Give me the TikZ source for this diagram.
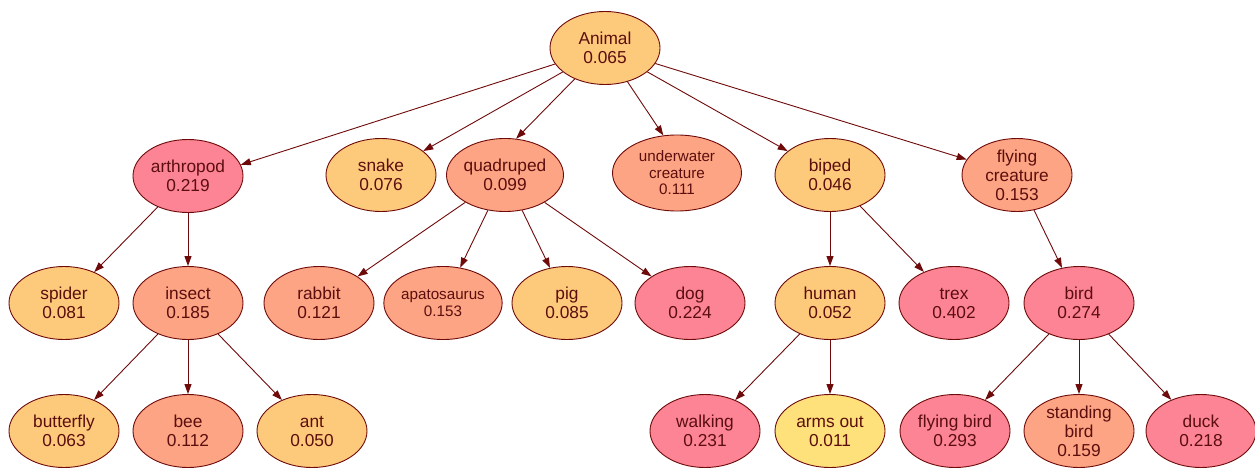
\documentclass[tikz,border=0pt]{standalone}
\usepackage{fontspec}
\setmainfont{Liberation Sans}
\usetikzlibrary{arrows.meta,shapes.geometric}
\definecolor{cOr}{HTML}{FDC97B}
\definecolor{cSa}{HTML}{FCA483}
\definecolor{cPk}{HTML}{FC8494}
\definecolor{cYe}{HTML}{FEE17A}
\definecolor{cLine}{HTML}{6E0A0A}
\definecolor{cText}{HTML}{5C0E0E}
\tikzset{
  nd/.style={ellipse, draw=cLine, line width=0.9pt, inner sep=0pt,
    minimum width=110pt, minimum height=73pt, align=center, text=cText,
    font=\fontsize{17.3}{19}\selectfont},
  ndsmall/.style={nd, font=\fontsize{15.2}{16.5}\selectfont},
  ndwide/.style={ndsmall, minimum width=129pt, minimum height=76pt},
  orn/.style={fill=cOr}, sal/.style={fill=cSa}, pnk/.style={fill=cPk}, yel/.style={fill=cYe},
  edge/.style={draw=cLine, line width=0.9pt, -{Triangle[length=10pt,width=7pt]}}
}
\begin{document}
\begin{tikzpicture}[x=1pt,y=-1pt]
\useasboundingbox (0,0) rectangle (1255,468);
\node[nd,orn] (animal) at (605,48) {Animal\\0.065};
\node[nd,pnk] (arthropod) at (188,176) {arthropod\\0.219};
\node[nd,orn] (snake) at (381,175) {snake\\0.076};
\node[nd,sal] (quadruped) at (505,175) {quadruped\\0.099};
\node[ndwide,sal] (underwater) at (677,173) {underwater\\creature\\0.111};
\node[nd,orn] (biped) at (830,175) {biped\\0.046};
\node[nd,sal] (flyingc) at (1017,175) {flying\\creature\\0.153};
\node[nd,orn] (spider) at (64,303) {spider\\0.081};
\node[nd,sal] (insect) at (188,303) {insect\\0.185};
\node[nd,sal] (rabbit) at (319,303) {rabbit\\0.121};
\node[ndsmall,sal] (apato) at (443,303) {apatosaurus\\0.153};
\node[nd,orn] (pig) at (567,303) {pig\\0.085};
\node[nd,pnk] (dog) at (690,303) {dog\\0.224};
\node[nd,orn] (human) at (830,303) {human\\0.052};
\node[nd,pnk] (trex) at (954,303) {trex\\0.402};
\node[nd,pnk] (bird) at (1079,303) {bird\\0.274};
\node[nd,orn] (butterfly) at (64,431) {butterfly\\0.063};
\node[nd,sal] (bee) at (188,431) {bee\\0.112};
\node[nd,orn] (ant) at (312,431) {ant\\0.050};
\node[nd,pnk] (walking) at (705,431) {walking\\0.231};
\node[nd,yel] (armsout) at (830,431) {arms out\\0.011};
\node[nd,pnk] (flyingbird) at (955,431) {flying bird\\0.293};
\node[nd,sal] (standingbird) at (1079,431) {standing\\bird\\0.159};
\node[nd,pnk] (duck) at (1201,431) {duck\\0.218};
\draw[edge] (animal) -- (arthropod.12);
\draw[edge] (animal) -- (quadruped.73);
\draw[edge] (animal) -- (underwater.110);
\foreach \a/\b in {animal/snake, 
  animal/biped, animal/flyingc, arthropod/spider, arthropod/insect,
  insect/butterfly, insect/bee, insect/ant, quadruped/rabbit, quadruped/apato,
  quadruped/pig, quadruped/dog, biped/human, biped/trex, flyingc/bird,
  human/walking, human/armsout, bird/flyingbird, bird/standingbird, bird/duck}
  \draw[edge] (\a) -- (\b);
\end{tikzpicture}
\end{document}
